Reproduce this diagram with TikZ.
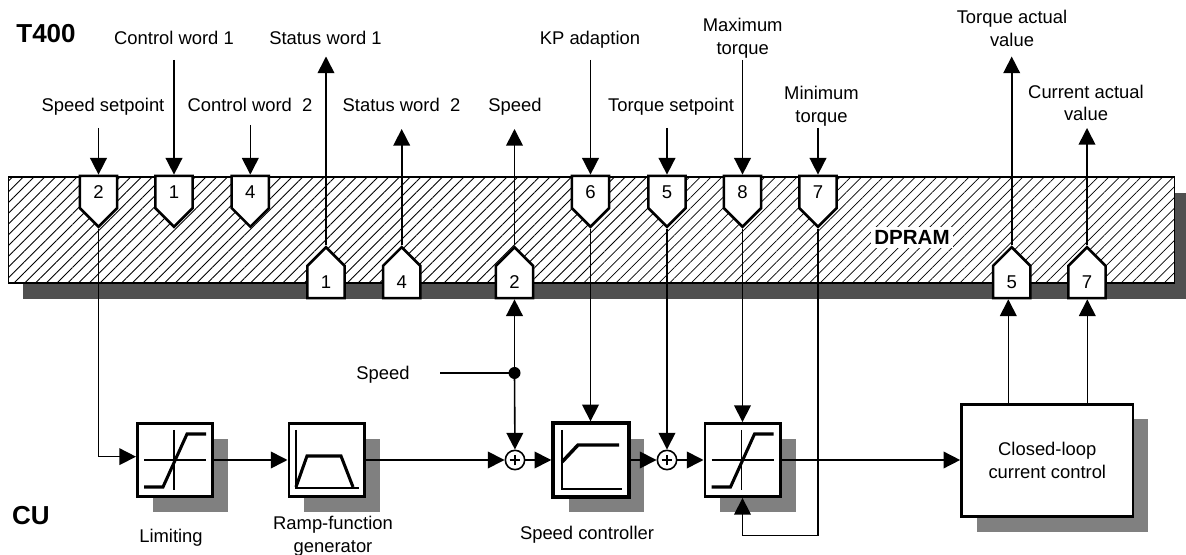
\documentclass[tikz,border=0pt]{standalone}
\usepackage{fontspec}
\setmainfont{Liberation Sans}
\usepackage{xcolor}
\usetikzlibrary{arrows.meta,patterns.meta,shadows,shapes.symbols,calc}
\definecolor{ramshadow}{HTML}{505050}
\definecolor{boxshadow}{HTML}{808080}
\tikzset{
    every picture/.style={line join=miter},
    labeltext/.style={font=\fontsize{13.8}{16.9}\selectfont,align=center,inner sep=2pt},
    singletext/.style={labeltext,text height=10pt,text depth=0pt},
    headtext/.style={font=\fontsize{19.5}{22}\selectfont\bfseries,inner sep=0pt},
    flowline/.style={line width=1.2pt},
    flowarrow/.style={flowline,-{Stealth[length=12.5pt,width=12.5pt,inset=0pt]}},
    port/.style={draw,fill=white,line width=1.9pt,signal,signal from=nowhere,signal pointer angle=90,
      minimum width=28pt,minimum height=28pt,inner sep=0pt,
      font=\fontsize{13.9}{16}\selectfont},
    portdown/.style={port,signal to=south},
    portup/.style={port,signal to=north},
    ctrlblock/.style={draw,fill=white,line width=1.9pt,minimum width=56.6pt,minimum height=55pt,
      inner sep=0pt,general shadow={fill=boxshadow,shadow xshift=11.5pt,shadow yshift=-11.5pt}},
    thickblock/.style={ctrlblock,line width=3pt},
    sumnode/.style={circle,draw,fill=white,line width=1.2pt,minimum size=14.5pt,inner sep=0pt,
      path picture={\draw[line width=1pt] (path picture bounding box.center)+(-4pt,0pt) -- +(4pt,0pt)
        (path picture bounding box.center)+(0pt,-4pt) -- +(0pt,4pt);}},
    limitcurve/.pic={
      \draw[line width=1.1pt] (-31,0) -- (31,0) (-1,-30) -- (-1,30);
      \draw[line width=2.3pt] (-31,27) -- (-12,27) -- (12,-26) -- (31,-26);
    }
}
\begin{document}
\begin{tikzpicture}[x=0.75pt,y=-0.75pt]
  \useasboundingbox (0,0) rectangle (1186,555);
  % memory strip
  \fill[ramshadow] (23,193) rectangle (1190,299);
  \node[draw,line width=0.8pt,preaction={fill=white},
    pattern={Lines[angle=45,distance=5.7pt,line width=0.6pt]},
    minimum width=875pt,minimum height=79.5pt,inner sep=0pt] (dpram) at (591.5,230) {};
  \node[fill=white,font=\fontsize{15.4}{18}\selectfont\bfseries,inner sep=2.5pt] (dpramtext) at (912,237.7) {DPRAM};
  % ports into the memory
  \node[portdown] (inspeed) at (98.5,192) {2};
  \node[portdown] (inctrlone) at (174,192) {1};
  \node[portdown] (inctrltwo) at (250.3,192) {4};
  \node[portdown] (inkp) at (590.5,192) {6};
  \node[portdown] (intorque) at (667,192) {5};
  \node[portdown] (inmax) at (742.5,192) {8};
  \node[portdown] (inmin) at (818,192) {7};
  % ports out of the memory
  \node[portup] (outstatone) at (326,282) {1};
  \node[portup] (outstattwo) at (401.7,282) {4};
  \node[portup] (outspeed) at (514.5,282) {2};
  \node[portup] (outtorque) at (1011.7,282) {5};
  \node[portup] (outcurrent) at (1087,282) {7};
  % labels
  \node[headtext] (tfour) at (46,34) {T400};
  \node[headtext] (cu) at (31,516) {CU};
  \node[singletext] (lspeedset) at (103,105) {Speed setpoint};
  \node[singletext] (lctrlone) at (174,38) {Control word 1};
  \node[singletext] (lctrltwo) at (250,105) {Control word\ \ 2};
  \node[singletext] (lstatone) at (325.5,38) {Status word 1};
  \node[singletext] (lstattwo) at (401.5,105) {Status word\ \ 2};
  \node[singletext] (lspeed) at (515,105) {Speed};
  \node[singletext] (lkp) at (590,38) {KP adaption};
  \node[singletext] (ltorque) at (671,105) {Torque setpoint};
  \node[labeltext] (lmax) at (742.7,38) {Maximum\\torque};
  \node[labeltext] (lmin) at (821.5,106) {Minimum\\torque};
  \node[labeltext] (ltorqueact) at (1012,28.5) {Torque actual\\value};
  \node[labeltext] (lcurrentact) at (1086,103) {Current actual\\value};
  \node[singletext] (lspeedin) at (383,373) {Speed};
  \node[singletext] (llimit) at (171,536) {Limiting};
  \node[labeltext] (lramp) at (333,536) {Ramp-function\\generator};
  \node[singletext] (lspeedctrl) at (587,532.7) {Speed controller};
  % control blocks
  \node[ctrlblock] (limit) at (175,460) {};
  \node[ctrlblock] (ramp) at (326.5,460) {};
  \node[thickblock] (speedctrl) at (591,460) {};
  \node[ctrlblock] (torquelimit) at (742.5,460) {};
  \node[ctrlblock,minimum width=128.5pt,minimum height=84.5pt,labeltext,line width=2.2pt] (current) at (1047.3,460.5) {Closed-loop\\current control};
  \node[sumnode] (sumone) at (515,460) {};
  \node[sumnode] (sumtwo) at (667,460) {};
  % free ends and bends
  \coordinate (tee) at (514.5,373);
  \coordinate (speedstart) at (440,373);
  \coordinate (feedtorque) at (1008.3,403);
  \coordinate (feedcurrent) at (1087.3,403);
  \coordinate (minbend) at (742.5,535.7);
  \coordinate (topspeedset) at (98.5,128);
  \coordinate (topctrlone) at (174,60);
  \coordinate (topctrltwo) at (250.3,125);
  \coordinate (topkp) at (590.5,60);
  \coordinate (toptorque) at (667,128);
  \coordinate (topmax) at (742.5,60);
  \coordinate (topmin) at (818,128);
  \coordinate (topstatone) at (326,56.5);
  \coordinate (topstattwo) at (401.7,129);
  \coordinate (topspeed) at (514.5,129);
  \coordinate (toptorqueact) at (1011.7,56.5);
  \coordinate (topcurrentact) at (1087,128);
  \pic at (175,460) {limitcurve};
  \pic at (742.5,460) {limitcurve};
  \draw[line width=1.1pt] (296,430) -- (296,488) -- (359,488);
  \draw[line width=2.3pt] (296,487) -- (307,456) -- (341,456) -- (353,487);
  \draw[line width=1.9pt] (562,430) -- (562,489) -- (622,489);
  \draw[line width=2.6pt] (562,462) -- (578,445) -- (619,445);
  % connectors
  \draw[flowarrow] (topspeedset) -- (inspeed.north);
  \draw[flowarrow] (topctrlone) -- (inctrlone.north);
  \draw[flowarrow] (topctrltwo) -- (inctrltwo.north);
  \draw[flowarrow] (topkp) -- (inkp.north);
  \draw[flowarrow] (toptorque) -- (intorque.north);
  \draw[flowarrow] (topmax) -- (inmax.north);
  \draw[flowarrow] (topmin) -- (inmin.north);
  \draw[flowarrow] (outstatone.north) -- (topstatone);
  \draw[flowarrow] (outstattwo.north) -- (topstattwo);
  \draw[flowarrow] (outspeed.north) -- (topspeed);
  \draw[flowarrow] (outtorque.north) -- (toptorqueact);
  \draw[flowarrow] (outcurrent.north) -- (topcurrentact);
  \draw[flowarrow] (inspeed.south) |- ([yshift=2.5pt]limit.west);
  \draw[flowarrow] (limit) -- (ramp);
  \draw[flowarrow] (ramp) -- (sumone);
  \draw[flowarrow] (sumone) -- (speedctrl);
  \draw[flowarrow] (speedctrl) -- (sumtwo);
  \draw[flowarrow] (sumtwo) -- (torquelimit);
  \draw[flowarrow] (torquelimit.east) -- (current.west |- torquelimit);
  \draw[flowarrow] (inkp.south) -- (speedctrl.north -| inkp.south);
  \draw[flowarrow] (intorque.south) -- (sumtwo);
  \draw[flowarrow] (inmax.south) -- (torquelimit.north);
  \draw[flowarrow] (inmin.south) |- (minbend) -- (torquelimit.south);
  \draw[flowline] (speedstart) -- (tee);
  \draw[flowarrow] (tee) -- (outspeed.south);
  \draw[flowarrow] (tee) -- (sumone);
  \fill (tee) circle (4.5pt);
  \draw[flowarrow] (feedtorque) -- (outtorque.south -| feedtorque);
  \draw[flowarrow] (feedcurrent) -- (outcurrent.south -| feedcurrent);
\end{tikzpicture}
\end{document}
